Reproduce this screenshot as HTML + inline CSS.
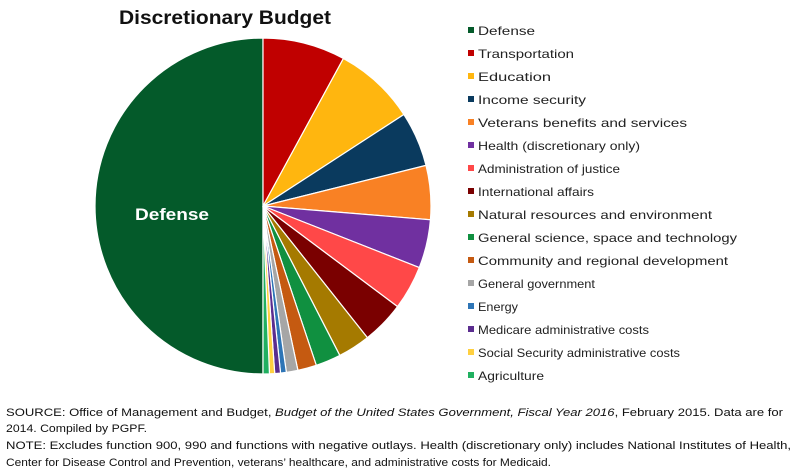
<!DOCTYPE html>
<html><head><meta charset="utf-8"><style>
html,body{margin:0;padding:0;background:#fff;}
svg{display:block;}
text{font-family:"Liberation Sans",sans-serif;}
</style></head><body>
<svg id="s" width="800" height="474" viewBox="0 0 800 474" xmlns="http://www.w3.org/2000/svg">
<text x="225" y="24" text-anchor="middle" font-size="19" font-weight="bold" fill="#111" textLength="212" lengthAdjust="spacingAndGlyphs">Discretionary Budget</text>
<g id="pie"></g>
<text x="172" y="220" text-anchor="middle" font-size="17" font-weight="bold" fill="#fff" textLength="74" lengthAdjust="spacingAndGlyphs">Defense</text>
<g id="leg" font-size="12" fill="#222"></g>
<g font-size="11" fill="#111">
<text x="6" y="416" textLength="777" lengthAdjust="spacingAndGlyphs">SOURCE:  Office of Management and Budget, <tspan font-style="italic">Budget of the United States Government, Fiscal Year 2016</tspan>, February 2015. Data are for</text>
<text x="6" y="432" textLength="141" lengthAdjust="spacingAndGlyphs">2014. Compiled by PGPF.</text>
<text x="6" y="449" textLength="785" lengthAdjust="spacingAndGlyphs">NOTE:  Excludes function 900, 990 and functions with negative outlays. Health (discretionary only) includes National Institutes of Health,</text>
<text x="6" y="466" textLength="545" lengthAdjust="spacingAndGlyphs">Center for Disease Control and Prevention, veterans’ healthcare, and administrative costs for Medicaid.</text>
</g>
</svg>
<script>
var cx=263,cy=206,r=168;
var d=[["Defense","#045a2a",180,360,57],["Transportation","#c00000",0,28.6,96],["Education","#ffb60f",28.6,57,73],["Income security","#0a3a5e",57,76,108],["Veterans benefits and services","#f98124",76,94.7,209],["Health (discretionary only)","#7030a0",94.7,111.5,162],["Administration of justice","#ff4848",111.5,126.8,142],["International affairs","#7a0000",126.8,141.6,116],["Natural resources and environment","#a57a00",141.6,152.8,234],["General science, space and technology","#109040",152.8,161.5,259],["Community and regional development","#c55a11",161.5,168,250],["General government","#a6a6a6",168,172,117],["Energy","#2e75b6",172,174,40],["Medicare administrative costs","#5b2d8f",174,176,171],["Social Security administrative costs","#ffd040",176,177.8,202],["Agriculture","#20b060",177.8,180,66]];
var ns="http://www.w3.org/2000/svg",pie=document.getElementById("pie"),leg=document.getElementById("leg");
function pt(a){a=a*Math.PI/180;return [cx+r*Math.sin(a),cy-r*Math.cos(a)];}
d.forEach(function(s,i){
 var p1=pt(s[2]),p2=pt(s[3]),large=(s[3]-s[2])>180?1:0;
 var p=document.createElementNS(ns,"path");
 p.setAttribute("d","M"+cx+","+cy+"L"+p1[0]+","+p1[1]+"A"+r+","+r+" 0 "+large+" 1 "+p2[0]+","+p2[1]+"Z");
 p.setAttribute("fill",s[1]);p.setAttribute("stroke","#fff");p.setAttribute("stroke-width","1.2");
 pie.appendChild(p);
 var y=31+i*23;
 var rc=document.createElementNS(ns,"rect");
 rc.setAttribute("x",468);rc.setAttribute("y",y-4);rc.setAttribute("width",6);rc.setAttribute("height",6);rc.setAttribute("fill",s[1]);
 leg.appendChild(rc);
 var t=document.createElementNS(ns,"text");
 t.setAttribute("x",478);t.setAttribute("y",y+4);t.setAttribute("textLength",s[4]);t.setAttribute("lengthAdjust","spacingAndGlyphs");
 t.textContent=s[0];leg.appendChild(t);
});
</script>
</body></html>
